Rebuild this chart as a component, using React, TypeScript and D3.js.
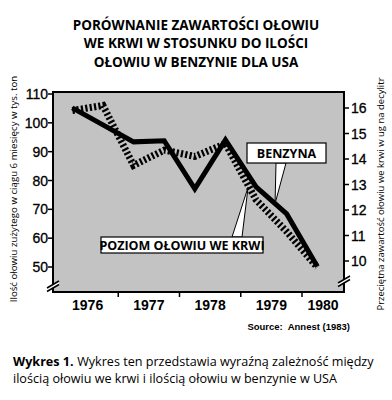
import React, { useEffect, useRef } from 'react';
import * as d3 from 'd3';

// half-year points
const periods = [1976.25, 1976.75, 1977.25, 1977.75, 1978.25, 1978.75, 1979.25, 1979.75, 1980.25];
const gasoline = [105.2, 99.3, 93.4, 93.8, 77.1, 94.1, 77.8, 68.4, 50.2];
const bloodLead = [15.9, 16.1, 13.75, 14.35, 14.1, 14.6, 12.4, 11.15, 9.75];
const leftTicks = [50, 60, 70, 80, 90, 100, 110];
const rightTicks = [10, 11, 12, 13, 14, 15, 16];
const years = [1976, 1977, 1978, 1979, 1980];
const yearTicks = [1977, 1978, 1979, 1980];
const titleLines = [
    'PORÓWNANIE ZAWARTOŚCI OŁOWIU',
    'WE KRWI W STOSUNKU DO ILOŚCI',
    'OŁOWIU W BENZYNIE DLA USA'
];
const leftLabel = 'Ilość ołowiu zużytego w ciągu 6 miesięcy w tys. ton';
const rightLabel = 'Przeciętna zawartość ołowiu we krwi w ug na decylitr';
const sourceText = 'Source:  Annest (1983)';
const captionBold = 'Wykres 1.';
const captionLines = [
    'Wykres ten przedstawia wyraźną zależność między',
    'ilością ołowiu we krwi i ilością ołowiu w benzynie w USA'
];

const W = 392, H = 400;
const plot = { left: 53, right: 344, top: 92, bottom: 292 };
const humanist = '"Open Sans", "Noto Sans", sans-serif';
const helv = '"Liberation Sans", Arial, sans-serif';

export default function App() {
    const svgRef = useRef<SVGSVGElement>(null);

    useEffect(() => {
        const svg = d3.select(svgRef.current);
        svg.selectAll('*').remove();

        const x = d3.scaleLinear().domain([1976, 1980]).range([57, 302]);
        const yL = d3.scaleLinear().domain([50, 110]).range([267, 94]);
        const yR = d3.scaleLinear().domain([10, 16]).range([261, 108]);

        svg.append('rect').attr('width', W).attr('height', H).attr('fill', '#fff');

        // title
        svg.append('g').selectAll('text').data(titleLines).enter().append('text')
            .attr('x', W / 2).attr('y', (d, i) => 29.5 + i * 18.5)
            .attr('text-anchor', 'middle')
            .style('font-family', humanist).style('font-weight', 700).style('font-size', '13.5px')
            .text(d => d);

        // plot background
        svg.append('rect')
            .attr('x', plot.left).attr('y', plot.top)
            .attr('width', plot.right - plot.left).attr('height', plot.bottom - plot.top)
            .attr('fill', '#c3c3c3').attr('stroke', '#000').attr('stroke-width', 2);

        // left ticks
        const gl = svg.append('g');
        gl.selectAll('line').data(leftTicks).enter().append('line')
            .attr('x1', plot.left - 5).attr('x2', plot.left)
            .attr('y1', d => yL(d)).attr('y2', d => yL(d))
            .attr('stroke', '#000').attr('stroke-width', 1.5);
        gl.selectAll('text').data(leftTicks).enter().append('text')
            .attr('x', plot.left - 5).attr('y', d => yL(d) + 5)
            .attr('text-anchor', 'end')
            .style('font-family', helv).style('font-size', '14px')
            .style('stroke', '#000').style('stroke-width', 0.3)
            .text(d => d);

        // right ticks
        const gr = svg.append('g');
        gr.selectAll('line').data(rightTicks).enter().append('line')
            .attr('x1', plot.right).attr('x2', plot.right + 5)
            .attr('y1', d => yR(d)).attr('y2', d => yR(d))
            .attr('stroke', '#000').attr('stroke-width', 1.5);
        gr.selectAll('text').data(rightTicks).enter().append('text')
            .attr('x', plot.right + 7).attr('y', d => yR(d) + 5)
            .style('font-family', helv).style('font-size', '14px')
            .style('stroke', '#000').style('stroke-width', 0.3)
            .text(d => d);

        // x ticks and year labels
        const gx = svg.append('g');
        gx.selectAll('line').data(yearTicks).enter().append('line')
            .attr('x1', d => x(d)).attr('x2', d => x(d))
            .attr('y1', plot.bottom).attr('y2', plot.bottom + 5)
            .attr('stroke', '#000').attr('stroke-width', 1.5);
        gx.selectAll('text').data(years).enter().append('text')
            .attr('x', d => Math.min(x(d + 0.5), plot.right - 21))
            .attr('y', 310)
            .attr('text-anchor', 'middle')
            .style('font-family', helv).style('font-weight', 700).style('font-size', '14px')
            .text(d => d);

        // axis breaks
        const brk = (cx: number, cy: number) => {
            const g = svg.append('g');
            g.append('polygon')
                .attr('points', `${cx - 6},${cy + 2} ${cx + 6},${cy - 5} ${cx + 6},${cy - 2} ${cx - 6},${cy + 5}`)
                .attr('fill', '#fff');
            [0, 3.5].forEach(o => {
                g.append('line')
                    .attr('x1', cx - 6).attr('y1', cy + 2 + o)
                    .attr('x2', cx + 6).attr('y2', cy - 5 + o)
                    .attr('stroke', '#000').attr('stroke-width', 1.5);
            });
        };
        brk(plot.left, 286);
        brk(plot.right, 281);

        // lines
        const lineL = d3.line<number>().x((d, i) => x(periods[i])).y(d => yL(d));
        const lineR = d3.line<number>().x((d, i) => x(periods[i])).y(d => yR(d));

        svg.append('path').datum(bloodLead)
            .attr('d', lineR)
            .attr('fill', 'none').attr('stroke', '#000')
            .attr('stroke-width', 7).attr('stroke-dasharray', '2.2,2.2');

        svg.append('path').datum(gasoline)
            .attr('d', lineL)
            .attr('fill', 'none').attr('stroke', '#000')
            .attr('stroke-width', 5).attr('stroke-linejoin', 'miter');

        // callouts
        const interpL = d3.scaleLinear().domain(periods).range(gasoline);
        const interpR = d3.scaleLinear().domain(periods).range(bloodLead);

        const callout = (label: string, bx: number, by: number, bw: number, bh: number,
                         tipX: number, tipY: number, baseX1: number, baseX2: number, baseY: number) => {
            const g = svg.append('g');
            g.append('polygon')
                .attr('points', `${baseX1},${baseY} ${tipX},${tipY} ${baseX2},${baseY}`)
                .attr('fill', '#fff').attr('stroke', '#000').attr('stroke-width', 1);
            g.append('rect')
                .attr('x', bx).attr('y', by).attr('width', bw).attr('height', bh)
                .attr('fill', '#fff').attr('stroke', '#000').attr('stroke-width', 1.2);
            g.append('text')
                .attr('x', bx + bw / 2).attr('y', by + bh / 2 + 4.5)
                .attr('text-anchor', 'middle')
                .style('font-family', humanist).style('font-weight', 700).style('font-size', '12.5px')
                .text(label);
        };

        const tB = 1979.56;
        callout('BENZYNA', 247, 143, 79, 20, x(tB), yL(interpL(tB)), 276, 286, 163);
        const tP = 1979.12;
        callout('POZIOM OŁOWIU WE KRWI', 101, 237, 162, 16, x(tP), yR(interpR(tP)) + 2, 232, 242, 237);

        // axis titles
        svg.append('text')
            .attr('transform', `translate(17,${(85 + 293) / 2}) rotate(-90)`)
            .attr('text-anchor', 'middle')
            .style('font-family', humanist).style('font-size', '9.7px')
            .text(leftLabel);
        svg.append('text')
            .attr('transform', `translate(384,${(85 + 303) / 2}) rotate(-90)`)
            .attr('text-anchor', 'middle')
            .style('font-family', humanist).style('font-size', '9.5px')
            .text(rightLabel);

        // source
        svg.append('text')
            .attr('x', 350).attr('y', 330)
            .attr('text-anchor', 'end')
            .style('font-family', helv).style('font-weight', 700).style('font-size', '9.5px')
            .style('white-space', 'pre')
            .text(sourceText);

        // caption
        const fs = '12.6px';
        const bold = svg.append('text').attr('x', 13).attr('y', 365.5)
            .style('font-family', humanist).style('font-size', fs).style('font-weight', 700)
            .text(captionBold);
        const bw = (bold.node() as SVGTextElement).getComputedTextLength();
        svg.append('text').attr('x', 13 + bw + 3.5).attr('y', 365.5)
            .style('font-family', humanist).style('font-size', fs)
            .text(captionLines[0]);
        svg.append('text').attr('x', 13).attr('y', 383)
            .style('font-family', humanist).style('font-size', fs)
            .text(captionLines[1]);
    }, []);

    return (
        <svg ref={svgRef} width={W} height={H} style={{ position: 'absolute', left: 0, top: 0 }}></svg>
    );
}
